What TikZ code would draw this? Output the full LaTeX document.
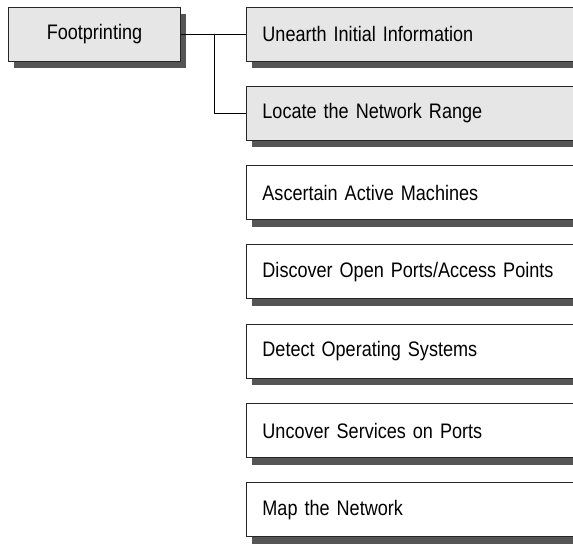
\documentclass[tikz,border=0pt]{standalone}
\usepackage{fontspec}
\setmainfont[FakeStretch=0.86]{Liberation Sans}
\usepackage{tikz}
\usetikzlibrary{shadows}
\usetikzlibrary{positioning}
\usetikzlibrary{calc}

\definecolor{boxgray}{RGB}{230,230,231}
\definecolor{shadowgray}{RGB}{85,85,85}

\begin{document}
\begin{tikzpicture}[x=1pt,y=1pt,thick,node distance=24.4pt,
	every node/.style={font=\fontsize{21}{23}\selectfont},
	step box/.style={draw=black!85,line width=0.9pt,minimum height=54pt,
		drop shadow={shadow xshift=6pt,shadow yshift=-7pt,fill=shadowgray,opacity=1}},
	task box/.style={step box,fill=white,anchor=west,text width=308pt,
		inner xsep=16pt,align=left},
	shaded/.style={fill=boxgray}]
	
	\clip (0,0) rectangle (573,-544);
	
	\node[step box,shaded,minimum width=172pt,anchor=west] (foot) at (8,-34) {Footprinting};
	\node[task box,shaded] (unearth) at (246,-34) {Unearth Initial Information};
	\node[task box,shaded] (locate) [below=of unearth] {Locate the Network Range};
	\node[task box] (ascertain) [below=of locate] {Ascertain Active Machines};
	\node[task box] (discover) [below=of ascertain] {Discover Open Ports/Access Points};
	\node[task box] (detect) [below=of discover] {Detect Operating Systems};
	\node[task box] (uncover) [below=of detect] {Uncover Services on Ports};
	\node[task box] (map) [below=of uncover] {Map the Network};
	
	\coordinate (fork) at ($(foot.east)!0.52!(unearth.west)$);
	\draw[line width=0.9pt] (foot.east) -- (unearth.west);
	\draw[line width=0.9pt] (fork) |- (locate.west);
\end{tikzpicture}
\end{document}
